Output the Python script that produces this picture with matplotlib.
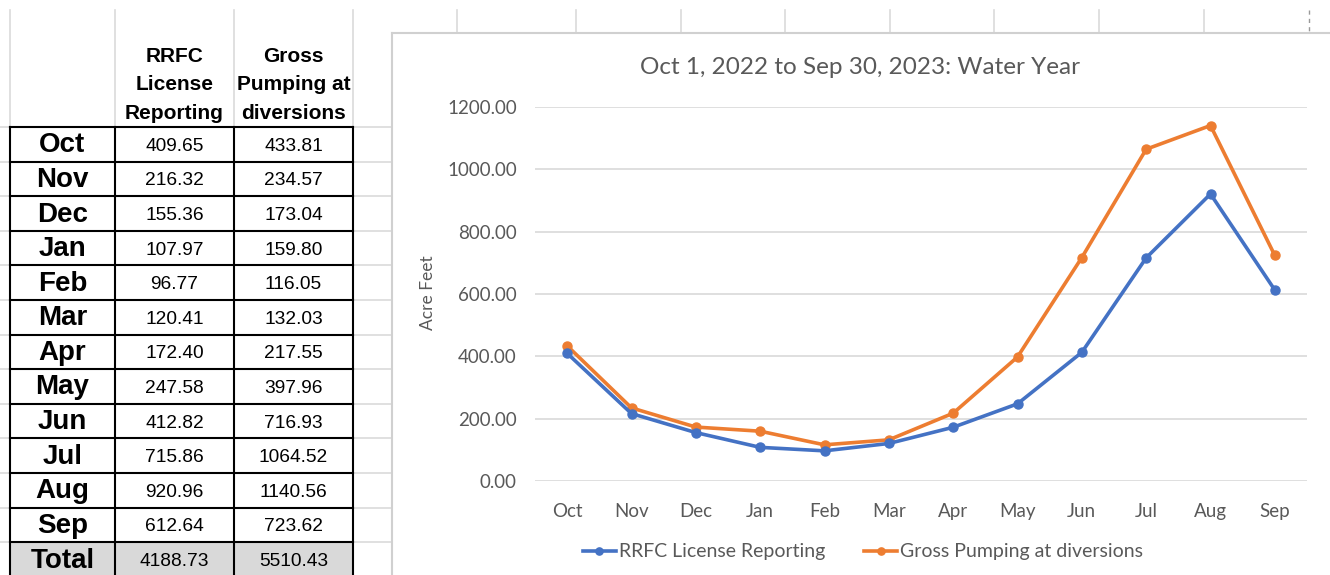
import matplotlib as mpl
from matplotlib import pyplot as plt
from matplotlib.patches import Rectangle

mpl.rcParams["font.family"] = ["Lato", "DejaVu Sans"]

months = ["Oct", "Nov", "Dec", "Jan", "Feb", "Mar", "Apr", "May", "Jun", "Jul", "Aug", "Sep"]
rrfc = [409.65, 216.32, 155.36, 107.97, 96.77, 120.41, 172.40, 247.58, 412.82, 715.86, 920.96, 612.64]
gross = [433.81, 234.57, 173.04, 159.80, 116.05, 132.03, 217.55, 397.96, 716.93, 1064.52, 1140.56, 723.62]
rrfc_total = 4188.73
gross_total = 5510.43
header_rrfc = "RRFC\nLicense\nReporting"
header_gross = "Gross\nPumping at\ndiversions"
chart_title = "Oct 1, 2022 to Sep 30, 2023: Water Year"
y_ticks = [0, 200, 400, 600, 800, 1000, 1200]

W, H = 1330, 575
fig = plt.figure(figsize=(W / 100, H / 100), dpi=100)

# background "sheet" in pixel coords
bg = fig.add_axes([0, 0, 1, 1])
bg.set_xlim(0, W)
bg.set_ylim(H, 0)
bg.axis("off")

grid_c = "#dadada"
col_x = [10, 115, 234, 353]
row_top = 127
row_h = 34.6
n_rows = len(months) + 1

# spreadsheet grid lines
for x in col_x:
    bg.plot([x, x], [10, row_top], color=grid_c, lw=1.2)
for x in [457, 576, 681, 785, 890, 994, 1099, 1204]:
    bg.plot([x, x], [10, 33], color=grid_c, lw=1.2)
bg.plot([1309, 1309], [10, 33], color="#999999", lw=1, ls=(0, (3, 3)))
for i in range(n_rows + 1):
    y = row_top + i * row_h
    bg.plot([0, 10], [y, y], color=grid_c, lw=1.2)
    bg.plot([353, 392], [y, y], color=grid_c, lw=1.2)

# chart box border
bg.plot([392, 392], [33, H], color="#d0d0d0", lw=1.5)
bg.plot([392, W], [33, 33], color="#d0d0d0", lw=1.5)

# total row fill
bg.add_patch(Rectangle((col_x[0], row_top + 12 * row_h), col_x[3] - col_x[0], row_h,
                       facecolor="#d9d9d9", edgecolor="none", zorder=1))

# table borders
for i in range(n_rows + 1):
    y = row_top + i * row_h
    bg.plot([col_x[0], col_x[3]], [y, y], color="black", lw=1.5, zorder=3)
for x in col_x:
    bg.plot([x, x], [row_top, H + 5], color="black", lw=1.5, zorder=3)

tfont = ["Liberation Sans", "DejaVu Sans"]
bg.text((col_x[1] + col_x[2]) / 2, 85, header_rrfc, ha="center", va="center",
        fontsize=15, fontweight="bold", family=tfont, linespacing=1.65)
bg.text((col_x[2] + col_x[3]) / 2, 85, header_gross, ha="center", va="center",
        fontsize=15, fontweight="bold", family=tfont, linespacing=1.65)

labels = months + ["Total"]
v1 = rrfc + [rrfc_total]
v2 = gross + [gross_total]
for i, (m, a, b) in enumerate(zip(labels, v1, v2)):
    yc = row_top + (i + 0.5) * row_h + 1
    bg.text((col_x[0] + col_x[1]) / 2, yc, m, ha="center", va="center",
            fontsize=20, fontweight="bold", family=tfont)
    bg.text((col_x[1] + col_x[2]) / 2, yc + 1, f"{a:.2f}", ha="center", va="center",
            fontsize=13.8, family=tfont)
    bg.text((col_x[2] + col_x[3]) / 2, yc + 1, f"{b:.2f}", ha="center", va="center",
            fontsize=13.8, family=tfont)

# chart
px_l, px_r, px_b, px_t = 535, 1307, 481, 107
ax = fig.add_axes([px_l / W, 1 - px_b / H, (px_r - px_l) / W, (px_b - px_t) / H])
x = list(range(len(months)))
blue = "#4472C4"
orange = "#ED7D31"
ax.plot(x, rrfc, color=blue, lw=2.6, marker="o", markersize=6.5, clip_on=False, zorder=3,
        label="RRFC License Reporting")
ax.plot(x, gross, color=orange, lw=2.6, marker="o", markersize=6.5, clip_on=False, zorder=2,
        label="Gross Pumping at diversions")
ax.set_xlim(-0.5, len(months) - 0.5)
ax.set_ylim(0, 1200)
ax.set_yticks(y_ticks)
ax.set_yticklabels([f"{v:.2f}" for v in y_ticks])
ax.set_xticks(x)
ax.set_xticklabels(months)
for s in ax.spines.values():
    s.set_visible(False)
ax.grid(axis="y", color="#d9d9d9", lw=1.2)
ax.set_axisbelow(True)
ax.tick_params(length=0, labelsize=13.5, colors="#595959")
ax.tick_params(axis="x", pad=16)
ax.tick_params(axis="y", pad=13)

fig.text(428 / W, 1 - 293 / H, "Acre Feet", rotation=90, ha="center", va="center",
         fontsize=12.5, color="#595959")
fig.text(860 / W, 1 - 68 / H, chart_title, ha="center", va="center",
         fontsize=17.5, color="#595959")

fig.legend(loc="center", bbox_to_anchor=(863 / W, 1 - 552 / H), ncol=2, frameon=False,
           fontsize=14, handlelength=1.7, handletextpad=0.15, columnspacing=2.0,
           labelcolor="#595959", markerscale=0.8)

fig.savefig("out.png", dpi=100)
